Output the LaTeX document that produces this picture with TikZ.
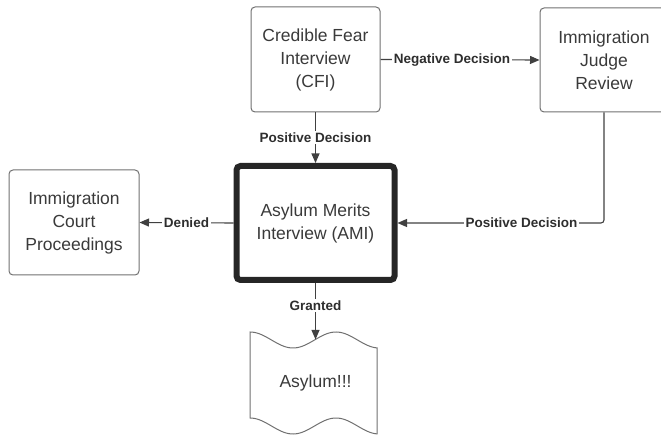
\documentclass[tikz,border=0pt]{standalone}
\usepackage{fontspec}
\setmainfont{Liberation Sans}
\usepackage{xcolor}
\usepackage{tikz}
\usetikzlibrary{arrows.meta,positioning,calc}
\definecolor{boxline}{HTML}{707070}
\definecolor{boxtext}{HTML}{3A3A3A}
\definecolor{wirecol}{HTML}{404040}

\begin{document}
\begin{tikzpicture}[x=1pt,y=-1pt,>={Triangle[length=9.5pt,width=8pt]},
  box/.style={draw=boxline,line width=1pt,rounded corners=4pt,align=center,text=boxtext,
    font=\fontsize{17.5}{23}\selectfont,minimum width=#1,minimum height=105pt,inner sep=0pt},
  lab/.style={fill=white,inner sep=1.5pt,text=black!82,font=\bfseries\fontsize{13.5}{16}\selectfont},
  wire/.style={draw=wirecol,line width=1.1pt,->}]
  \useasboundingbox (0,0) rectangle (661,435);
  \node[box=129pt] (cfi) at (315.5,59.5) {Credible Fear\\Interview\\(CFI)};
  \node[box=128pt,minimum height=104pt] (ijr) at (604,60) {Immigration\\Judge\\Review};
  \node[box=130pt] (icp) at (74,222.5) {Immigration\\Court\\Proceedings};
  \node[box=158pt,minimum height=114pt,draw=black!85,line width=6pt] (ami) at (315.5,223)
    {Asylum Merits\\Interview (AMI)};
  \node[text=boxtext,font=\fontsize{17.5}{23}\selectfont] (asylum) at (315.5,383) {Asylum!!!};
  \draw[boxline,line width=1pt]
    plot[domain=250:377,samples=60] (\x,{340-8*cos((\x-250)/86*360)})
    -- plot[domain=377:250,samples=60] (\x,{426-8*cos((\x-250)/86*360)}) -- cycle;
  \coordinate (asylumtop) at (315.5,339.4);
  \draw[wire] (cfi.east) -- node[lab,pos=0.45] {Negative Decision} (ijr.west);
  \draw[wire] (cfi.south) -- node[lab] {Positive Decision} (ami.north);
  \draw[wire,rounded corners=3pt] (ijr.south) |- node[lab,pos=0.7] {Positive Decision} (ami.east);
  \draw[wire] (ami.west) -- node[lab] {Denied} (icp.east);
  \draw[wire] (ami.south) -- node[lab,pos=0.4] {Granted} (asylumtop);
\end{tikzpicture}
\end{document}
